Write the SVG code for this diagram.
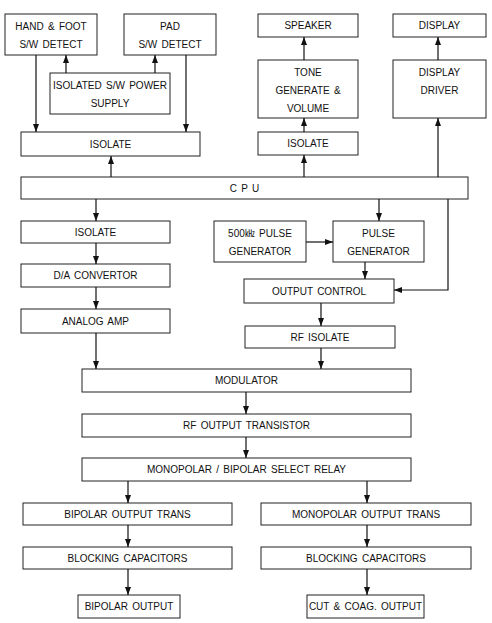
<svg xmlns="http://www.w3.org/2000/svg" width="492" height="623" viewBox="0 0 492 623">
<style>
.box{fill:#fff;stroke:#222;stroke-width:1}
.t{font-family:"Liberation Sans",Arial,"Noto Sans CJK KR",sans-serif;font-size:10px;word-spacing:1.5px;fill:#111;text-anchor:middle;dominant-baseline:central}
.c{fill:none;stroke:#111;stroke-width:1.2}
</style>
<defs>
<marker id="ah" markerWidth="8" markerHeight="6" refX="8" refY="3" orient="auto" markerUnits="userSpaceOnUse">
<path d="M0,0 L8,3 L0,6 z" fill="#111"/>
</marker>
</defs>
<rect width="492" height="623" fill="#fff"/>
<g id="hand"><rect class="box" x="5" y="14" width="92" height="41"/><text class="t" x="51" y="26">HAND &amp; FOOT</text><text class="t" x="51" y="44">S/W DETECT</text></g>
<g id="pad"><rect class="box" x="124" y="14" width="92" height="41"/><text class="t" x="170" y="26">PAD</text><text class="t" x="170" y="44">S/W DETECT</text></g>
<g id="psu"><rect class="box" x="50" y="73" width="120" height="41"/><text class="t" x="110" y="85">ISOLATED S/W POWER</text><text class="t" x="110" y="103">SUPPLY</text></g>
<g id="iso1"><rect class="box" x="21" y="132" width="179" height="24"/><text class="t" x="110.5" y="144">ISOLATE</text></g>
<g id="speaker"><rect class="box" x="258" y="14" width="100" height="23"/><text class="t" x="308" y="25.5">SPEAKER</text></g>
<g id="tone"><rect class="box" x="258" y="60" width="100" height="58"/><text class="t" x="308" y="72">TONE</text><text class="t" x="308" y="90">GENERATE &amp;</text><text class="t" x="308" y="108">VOLUME</text></g>
<g id="iso2"><rect class="box" x="258" y="132" width="100" height="23"/><text class="t" x="308" y="143.5">ISOLATE</text></g>
<g id="display"><rect class="box" x="393" y="14" width="93" height="23"/><text class="t" x="439.5" y="25.5">DISPLAY</text></g>
<g id="driver"><rect class="box" x="393" y="60" width="93" height="58"/><text class="t" x="439.5" y="72">DISPLAY</text><text class="t" x="439.5" y="90">DRIVER</text></g>
<g id="cpu"><rect class="box" x="21" y="177" width="447" height="22"/><text class="t" x="244.5" y="188">C P U</text></g>
<g id="iso3"><rect class="box" x="21" y="221" width="149" height="22"/><text class="t" x="95.5" y="232">ISOLATE</text></g>
<g id="da"><rect class="box" x="21" y="264" width="149" height="23"/><text class="t" x="95.5" y="275.5">D/A CONVERTOR</text></g>
<g id="amp"><rect class="box" x="21" y="309" width="149" height="24"/><text class="t" x="95.5" y="321">ANALOG AMP</text></g>
<g id="osc"><rect class="box" x="214" y="221" width="92" height="41"/><text class="t" x="260" y="233">500㎑ PULSE</text><text class="t" x="260" y="251">GENERATOR</text></g>
<g id="pulse"><rect class="box" x="333" y="221" width="91" height="41"/><text class="t" x="378.5" y="233">PULSE</text><text class="t" x="378.5" y="251">GENERATOR</text></g>
<g id="outctl"><rect class="box" x="244" y="279" width="150" height="24"/><text class="t" x="319" y="291">OUTPUT CONTROL</text></g>
<g id="rfiso"><rect class="box" x="245" y="326" width="150" height="22"/><text class="t" x="320" y="337">RF ISOLATE</text></g>
<g id="mod"><rect class="box" x="82" y="369" width="329" height="23"/><text class="t" x="246.5" y="380.5">MODULATOR</text></g>
<g id="rfout"><rect class="box" x="82" y="414" width="329" height="23"/><text class="t" x="246.5" y="425.5">RF OUTPUT TRANSISTOR</text></g>
<g id="relay"><rect class="box" x="82" y="458" width="329" height="23"/><text class="t" x="246.5" y="469.5">MONOPOLAR / BIPOLAR SELECT RELAY</text></g>
<g id="biptrans"><rect class="box" x="23" y="503" width="209" height="22"/><text class="t" x="127.5" y="514">BIPOLAR OUTPUT TRANS</text></g>
<g id="bipcap"><rect class="box" x="23" y="547" width="209" height="22"/><text class="t" x="127.5" y="558">BLOCKING CAPACITORS</text></g>
<g id="bipout"><rect class="box" x="78" y="595" width="102" height="23"/><text class="t" x="129" y="606.5">BIPOLAR OUTPUT</text></g>
<g id="monotrans"><rect class="box" x="261" y="503" width="210" height="22"/><text class="t" x="366" y="514">MONOPOLAR OUTPUT TRANS</text></g>
<g id="monocap"><rect class="box" x="261" y="547" width="210" height="22"/><text class="t" x="366" y="558">BLOCKING CAPACITORS</text></g>
<g id="cutout"><rect class="box" x="307" y="595" width="117" height="23"/><text class="t" x="365.5" y="606.5">CUT &amp; COAG. OUTPUT</text></g>
<g id="connectors">
<path class="c" d="M36,55 V132" marker-end="url(#ah)"/>
<path class="c" d="M66,73 V55" marker-end="url(#ah)"/>
<path class="c" d="M155,73 V55" marker-end="url(#ah)"/>
<path class="c" d="M186,55 V132" marker-end="url(#ah)"/>
<path class="c" d="M111,177 V156" marker-end="url(#ah)"/>
<path class="c" d="M304,177 V155" marker-end="url(#ah)"/>
<path class="c" d="M304,132 V118" marker-end="url(#ah)"/>
<path class="c" d="M304,60 V37" marker-end="url(#ah)"/>
<path class="c" d="M438,177 V118" marker-end="url(#ah)"/>
<path class="c" d="M438,60 V37" marker-end="url(#ah)"/>
<path class="c" d="M96,199 V221" marker-end="url(#ah)"/>
<path class="c" d="M96,243 V264" marker-end="url(#ah)"/>
<path class="c" d="M96,287 V309" marker-end="url(#ah)"/>
<path class="c" d="M96,333 V369" marker-end="url(#ah)"/>
<path class="c" d="M379,199 V221" marker-end="url(#ah)"/>
<path class="c" d="M306,242 H333" marker-end="url(#ah)"/>
<path class="c" d="M365,262 V279" marker-end="url(#ah)"/>
<path class="c" d="M448,199 V290 H394" marker-end="url(#ah)"/>
<path class="c" d="M321,303 V326" marker-end="url(#ah)"/>
<path class="c" d="M321,348 V369" marker-end="url(#ah)"/>
<path class="c" d="M246,392 V414" marker-end="url(#ah)"/>
<path class="c" d="M246,437 V458" marker-end="url(#ah)"/>
<path class="c" d="M128,481 V503" marker-end="url(#ah)"/>
<path class="c" d="M367,481 V503" marker-end="url(#ah)"/>
<path class="c" d="M128,525 V547" marker-end="url(#ah)"/>
<path class="c" d="M128,569 V595" marker-end="url(#ah)"/>
<path class="c" d="M367,525 V547" marker-end="url(#ah)"/>
<path class="c" d="M367,569 V595" marker-end="url(#ah)"/>
</g>
</svg>
